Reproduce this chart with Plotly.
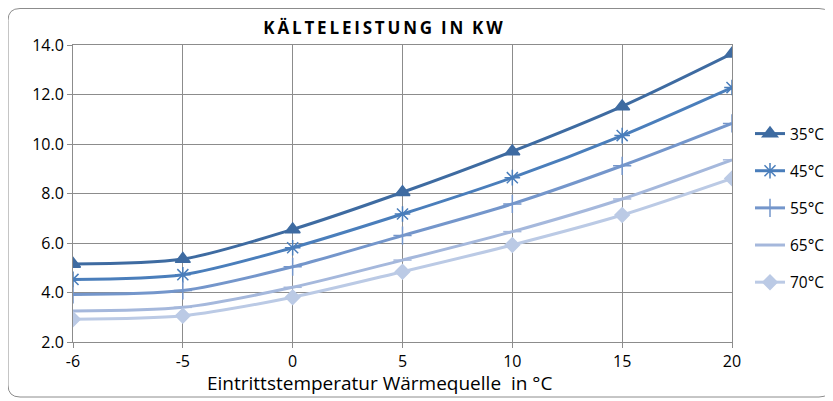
import plotly.graph_objects as go

categories = ["-6", "-5", "0", "5", "10", "15", "20"]
s35 = [5.15, 5.35, 6.55, 8.05, 9.70, 11.52, 13.65]
s45 = [4.53, 4.72, 5.81, 7.17, 8.64, 10.34, 12.28]
s55 = [3.92, 4.08, 5.04, 6.30, 7.58, 9.12, 10.83]
s65 = [3.25, 3.40, 4.21, 5.31, 6.46, 7.78, 9.36]
s70 = [2.92, 3.06, 3.81, 4.84, 5.92, 7.13, 8.61]
series_names = ["35°C", "45°C", "55°C", "65°C", "70°C"]
y_ticks = [2.0, 4.0, 6.0, 8.0, 10.0, 12.0, 14.0]

OFF = 8  # page body margin
W, H = 833 - OFF, 401 - OFF
L, R, T, B = 73 - OFF, 732 - OFF, 45 - OFF, 342 - OFF

colors = ["#3E6BA1", "#4A7EBB", "#7496CB", "#A5B8DC", "#BBCAE5"]
symbols = ["triangle-up", "asterisk-open", "cross-thin-open", "line-ew-open", "diamond"]
sizes = [13, 13, 13, 13, 11]

fig = go.Figure()
for i, (name, vals) in enumerate(zip(series_names, [s35, s45, s55, s65, s70])):
    fig.add_trace(go.Scatter(
        x=categories, y=vals, name=name, mode="lines+markers",
        line=dict(color=colors[i], width=3, shape="spline", smoothing=0.8),
        marker=dict(symbol=symbols[i], size=sizes[i], color=colors[i],
                    line=dict(color=colors[i], width=1.5)),
        legendgroup=name,
    ))

def px(x):
    return (x - OFF - L) / (R - L)

def py(y):
    return (B - (y - OFF)) / (B - T)

x0, x1, y0, y1, r = 8, 831, 8.5, 397, 12
path = (f"M {px(x0)},{py(y0 + r)} Q {px(x0)},{py(y0)} {px(x0 + r)},{py(y0)} "
        f"L {px(x1 - r)},{py(y0)} Q {px(x1)},{py(y0)} {px(x1)},{py(y0 + r)} "
        f"L {px(x1)},{py(y1 - r)} Q {px(x1)},{py(y1)} {px(x1 - r)},{py(y1)} "
        f"L {px(x0 + r)},{py(y1)} Q {px(x0)},{py(y1)} {px(x0)},{py(y1 - r)} Z")

fig.update_layout(
    width=W, height=H,
    margin=dict(l=L, r=W - R, t=T, b=H - B, autoexpand=False),
    paper_bgcolor="white", plot_bgcolor="white",
    font=dict(family="Open Sans, Lato, sans-serif", color="#000000", size=13),
    title=dict(text="<b>K\u2009Ä\u2009L\u2009T\u2009E\u2009L\u2009E\u2009I\u2009S\u2009T\u2009U\u2009N\u2009G  I\u2009N  K\u2009W</b>",
               x=(383 - OFF) / W, xanchor="center", y=1 - (28 - OFF) / H, yanchor="middle",
               font=dict(size=17, color="#000000")),
    showlegend=True,
    legend=dict(x=1.0 + 18 / (R - L), xanchor="left", y=py(117), yanchor="top",
                font=dict(size=15.5), tracegroupgap=14, traceorder="grouped",
                bgcolor="rgba(0,0,0,0)"),
    shapes=[dict(type="path", path=path, xref="paper", yref="paper",
                 line=dict(color="#8C8C8C", width=1), fillcolor="rgba(0,0,0,0)")],
    annotations=[dict(text="Eintrittstemperatur Wärmequelle  in °C", xref="paper", yref="paper",
                      x=px(379), y=py(383), xanchor="center", yanchor="middle",
                      showarrow=False, font=dict(size=19, color="#000000"))],
)
fig.update_xaxes(type="category", range=[0, 6], showgrid=True, gridcolor="#8C8C8C", gridwidth=1,
                 showline=True, linecolor="#8C8C8C", linewidth=1, mirror=True,
                 ticks="outside", ticklen=5, tickcolor="#8C8C8C", zeroline=False,
                 tickfont=dict(size=16))
fig.update_yaxes(range=[2, 14], tickvals=y_ticks, tickformat=".1f", showgrid=True,
                 gridcolor="#8C8C8C", gridwidth=1, showline=True, linecolor="#8C8C8C",
                 linewidth=1, mirror=True, ticks="outside", ticklen=5, tickcolor="#8C8C8C",
                 zeroline=False, tickfont=dict(size=16))

fig.write_html("out.html")
